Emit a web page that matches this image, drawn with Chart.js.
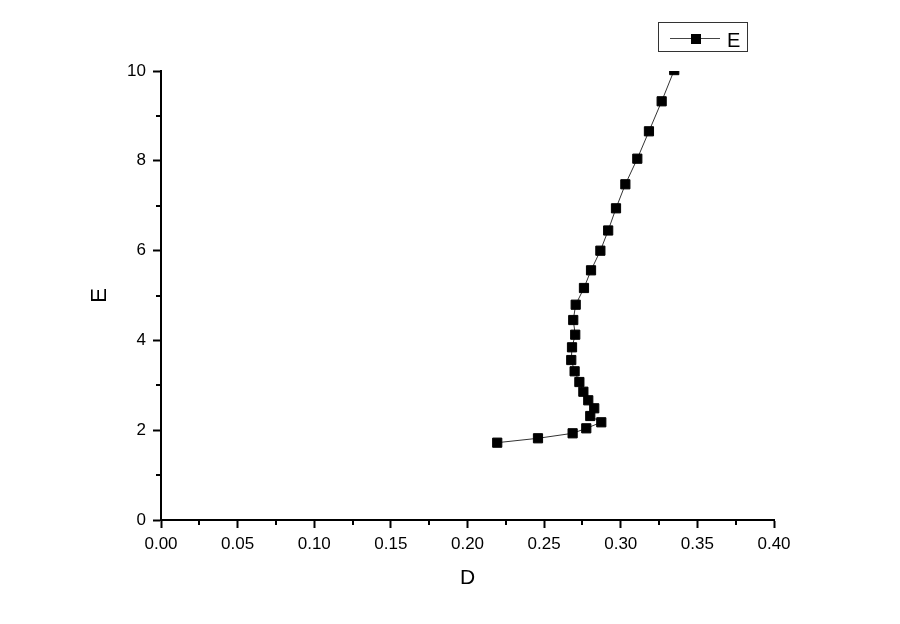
<!DOCTYPE html>
<html>
<head>
<meta charset="utf-8">
<script src="https://cdn.jsdelivr.net/npm/chart.js@4"></script>
<style>
html,body{margin:0;padding:0;background:#fff;}
#wrap{width:900px;height:624px;}
</style>
</head>
<body>
<div id="wrap"><canvas id="c" width="900" height="624"></canvas></div>
<script>
const seriesName = 'E';
const xTitle = 'D';
const yTitle = 'E';
const dValues = [0.2194,0.2460,0.2686,0.2775,0.2873,0.2801,0.2827,0.2788,0.2756,0.2730,0.2699,0.2677,0.2682,0.2703,0.2690,0.2706,0.2760,0.2806,0.2867,0.2918,0.2969,0.3030,0.3108,0.3184,0.3267,0.3349];
const eValues = [1.722,1.820,1.931,2.042,2.176,2.316,2.488,2.666,2.857,3.073,3.312,3.563,3.846,4.127,4.454,4.795,5.167,5.561,5.998,6.448,6.942,7.477,8.047,8.657,9.325,10.02];
const xTicks = [0,0.05,0.10,0.15,0.20,0.25,0.30,0.35,0.40];
const yTicks = [0,2,4,6,8,10];
const xMinorTicks = [0.025,0.075,0.125,0.175,0.225,0.275,0.325,0.375];
const yMinorTicks = [1,3,5,7,9];

const points = dValues.map((d,i)=>({x:d,y:eValues[i]}));
const FONT = 'Liberation Sans, Arial, sans-serif';

const minorTicksPlugin = {
  id:'minorTicks',
  afterDraw(chart){
    const ctx = chart.ctx;
    const xs = chart.scales.x, ys = chart.scales.y;
    const area = chart.chartArea;
    ctx.save();
    ctx.strokeStyle = '#000';
    ctx.lineWidth = 2;
    ctx.beginPath();
    xMinorTicks.forEach(v=>{
      const px = Math.round(xs.getPixelForValue(v));
      ctx.moveTo(px, area.bottom);
      ctx.lineTo(px, area.bottom + 5);
    });
    yMinorTicks.forEach(v=>{
      const py = Math.round(ys.getPixelForValue(v));
      ctx.moveTo(area.left, py);
      ctx.lineTo(area.left - 5, py);
    });
    ctx.stroke();
    ctx.restore();
  }
};

const legendBoxPlugin = {
  id:'legendBox',
  afterDraw(chart){
    const ctx = chart.ctx;
    ctx.save();
    ctx.strokeStyle = '#333';
    ctx.lineWidth = 1;
    ctx.strokeRect(658.5, 22.5, 89, 29);
    ctx.beginPath();
    ctx.strokeStyle = '#444';
    ctx.moveTo(670, 38.5);
    ctx.lineTo(720, 38.5);
    ctx.stroke();
    ctx.fillStyle = '#000';
    ctx.fillRect(691, 34, 10, 10);
    ctx.font = '20px ' + FONT;
    ctx.textBaseline = 'alphabetic';
    ctx.textAlign = 'left';
    ctx.fillText(seriesName, 727, 47);
    ctx.restore();
  }
};

new Chart(document.getElementById('c'), {
  type:'scatter',
  data:{
    datasets:[{
      label:seriesName,
      data:points,
      showLine:true,
      borderColor:'#333',
      borderWidth:1,
      backgroundColor:'#000',
      pointStyle:'rect',
      pointRadius:6.5,
      pointHoverRadius:6.5,
      pointBorderColor:'#000',
      pointBorderWidth:1,
      pointBackgroundColor:'#000',
      clip:{left:20,top:0,right:20,bottom:20}
    }]
  },
  options:{
    responsive:false,
    animation:false,
    devicePixelRatio:1,
    layout:{padding:{left:0,top:71,right:126,bottom:0}},
    plugins:{legend:{display:false},tooltip:{enabled:false}},
    scales:{
      x:{
        type:'linear',
        min:0,max:0.4,
        afterBuildTicks(s){ s.ticks = xTicks.map(v=>({value:v})); },
        afterFit(s){ s.height = 104; },
        ticks:{color:'#000',font:{family:FONT,size:17},padding:6,maxRotation:0,
          callback:(v)=>Number(v).toFixed(2)},
        grid:{drawOnChartArea:false,drawTicks:true,tickLength:8,tickWidth:2,tickColor:'#000'},
        border:{display:true,color:'#000',width:2},
        title:{display:true,text:xTitle,color:'#000',font:{family:FONT,size:21},padding:{top:0,bottom:33}}
      },
      y:{
        type:'linear',
        min:0,max:10,
        afterBuildTicks(s){ s.ticks = yTicks.map(v=>({value:v})); },
        afterFit(s){ s.width = 161; },
        ticks:{color:'#000',font:{family:FONT,size:17},padding:7,
          callback:(v)=>String(v)},
        grid:{drawOnChartArea:false,drawTicks:true,tickLength:8,tickWidth:2,tickColor:'#000'},
        border:{display:true,color:'#000',width:2},
        title:{display:true,text:yTitle,color:'#000',font:{family:FONT,size:22},padding:{top:87,bottom:0}}
      }
    }
  },
  plugins:[minorTicksPlugin,legendBoxPlugin]
});
</script>
</body>
</html>
